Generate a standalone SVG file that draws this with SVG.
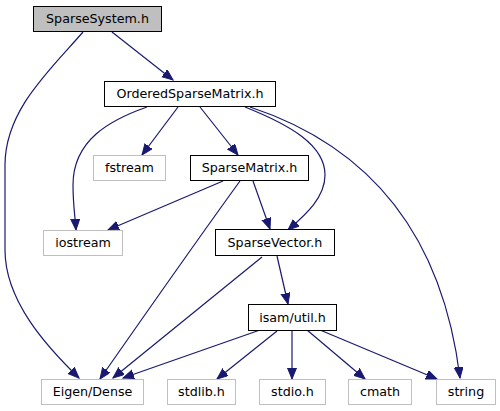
<svg xmlns="http://www.w3.org/2000/svg" width="500" height="411" viewBox="0 0 500 411">
<style>
.n rect{fill:#fff;stroke:#000;stroke-width:1}
.g rect{fill:#fff;stroke:#bfbfbf;stroke-width:1}
.root rect{fill:#bfbfbf;stroke:#000;stroke-width:1}
text{font-family:"DejaVu Sans",sans-serif;font-size:12.7px;text-anchor:middle;fill:#000}
.e path{fill:none;stroke:#191970;stroke-width:1.2;marker-end:url(#ah)}
</style>
<defs>
<marker id="ah" markerUnits="userSpaceOnUse" markerWidth="13" markerHeight="10" refX="11" refY="4.5" orient="auto">
<path d="M0,0 L11,4.5 L0,9 z" fill="#191970" stroke="#191970" stroke-width="1"/>
</marker>
</defs>
<g id="edges" class="e">
<path d="M112,32 L173,80"/>
<path d="M83,32 C50,70 5,110 5,165 L5,250 C5,300 45,345 79,378"/>
<path d="M147,107 C110,120 73,140 73,185 C73,205 75,215 76,230"/>
<path d="M178,107 L142,155"/>
<path d="M200,107 L238,155"/>
<path d="M245,107 C290,125 325,145 325,175 C325,198 305,215 288,230"/>
<path d="M250,107 C350,140 440,215 460,378"/>
<path d="M223,181 L108,230"/>
<path d="M240,181 Q190,250 100,379"/>
<path d="M253,181 L270,229"/>
<path d="M262,257 L113,378"/>
<path d="M277,256 L288,304"/>
<path d="M260,330 L123,378"/>
<path d="M277,331 L217,379"/>
<path d="M292,331 L292,379"/>
<path d="M307,330 L365,379"/>
<path d="M320,330 L437,379"/>
</g>
<g id="SparseSystem" class="root"><rect x="33.5" y="6.5" width="128" height="25"/><text x="97.5" y="23">SparseSystem.h</text></g>
<g id="OrderedSparseMatrix" class="n"><rect x="104.5" y="81.5" width="171" height="25"/><text x="190" y="98">OrderedSparseMatrix.h</text></g>
<g id="fstream" class="g"><rect x="93.5" y="155.5" width="72" height="25"/><text x="129.5" y="172">fstream</text></g>
<g id="SparseMatrix" class="n"><rect x="190.5" y="155.5" width="118" height="25"/><text x="249.5" y="172">SparseMatrix.h</text></g>
<g id="iostream" class="g"><rect x="43.5" y="230.5" width="79" height="25"/><text x="83" y="247">iostream</text></g>
<g id="SparseVector" class="n"><rect x="215.5" y="229.5" width="119" height="26"/><text x="275" y="247">SparseVector.h</text></g>
<g id="util" class="n"><rect x="248.5" y="304.5" width="88" height="26"/><text x="292.5" y="322">isam/util.h</text></g>
<g id="EigenDense" class="g"><rect x="41.5" y="379.5" width="102" height="25"/><text x="92.5" y="396">Eigen/Dense</text></g>
<g id="stdlib" class="g"><rect x="167.5" y="379.5" width="68" height="25"/><text x="201.5" y="396">stdlib.h</text></g>
<g id="stdio" class="g"><rect x="259.5" y="379.5" width="66" height="25"/><text x="292.5" y="396">stdio.h</text></g>
<g id="cmath" class="g"><rect x="348.5" y="379.5" width="63" height="25"/><text x="380" y="396">cmath</text></g>
<g id="string" class="g"><rect x="436.5" y="379.5" width="59" height="25"/><text x="466" y="396">string</text></g>
</svg>
